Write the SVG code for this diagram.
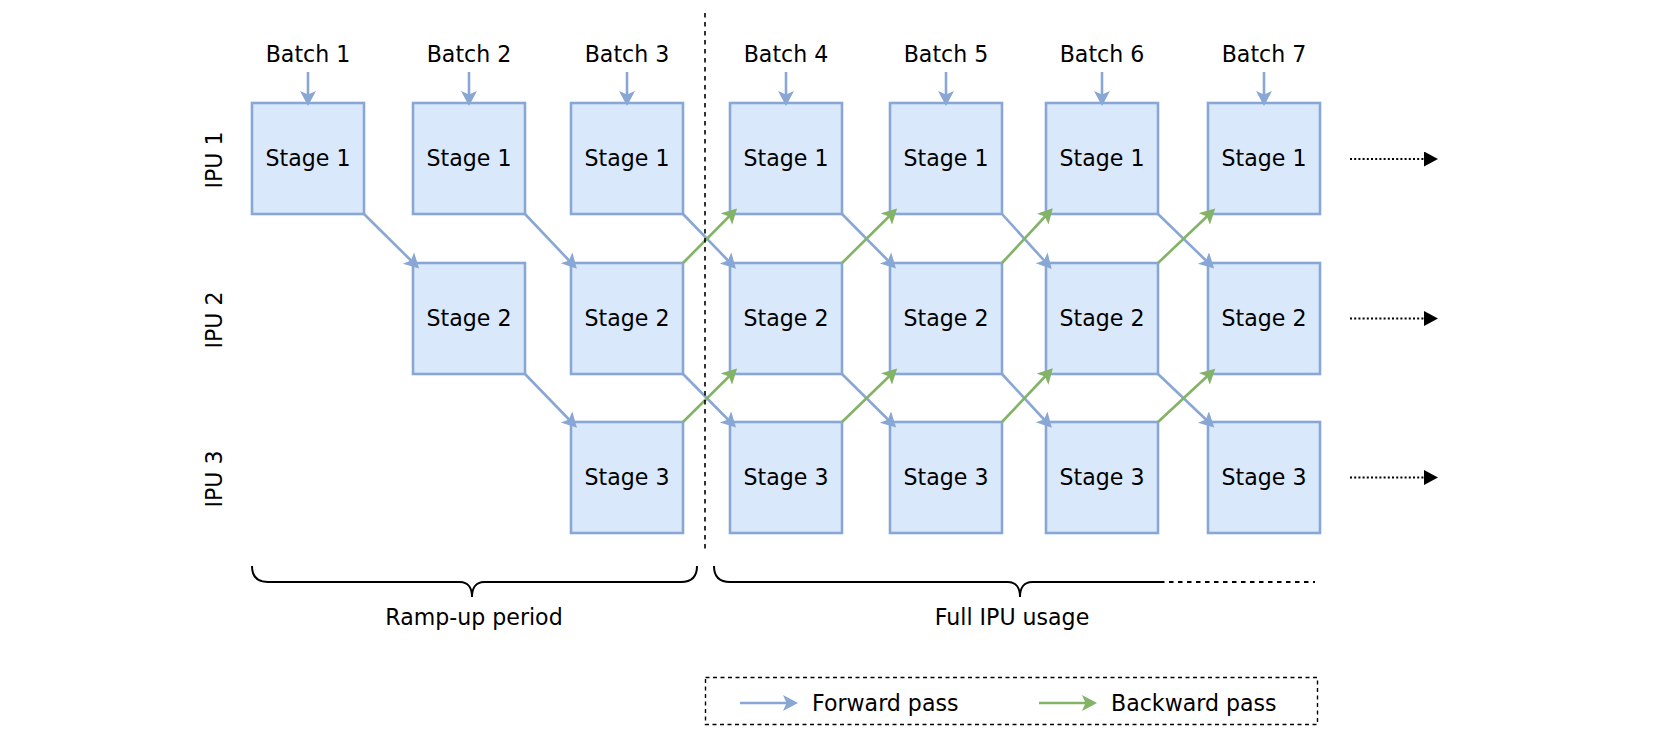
<svg xmlns="http://www.w3.org/2000/svg" width="1655" height="742" viewBox="0 0 1655 742">
<defs>
<style>
text{font-family:"DejaVu Sans","Liberation Sans",sans-serif;font-size:22.1px;fill:#000}
.box rect{fill:#dae8fc;stroke:#89a7d5;stroke-width:2.6}
.box text{text-anchor:middle}
.lbl{text-anchor:middle}
.fw{stroke:#89a7d5;stroke-width:2.6;fill:none;marker-end:url(#aB)}
.bw{stroke:#82b366;stroke-width:2.6;fill:none;marker-end:url(#aG)}
.dot{stroke:#000;stroke-width:2.2;stroke-dasharray:2 2.2;fill:none;marker-end:url(#aK)}
.dash{stroke:#000;stroke-width:1.6;stroke-dasharray:4.5 4.5;fill:none}
.brace{stroke:#000;stroke-width:2;fill:none}
</style>
<marker id="aB" markerUnits="userSpaceOnUse" markerWidth="16" markerHeight="17" refX="5" refY="8" orient="auto"><path d="M0,0 L15,8 L0,16 L3.5,8 z" fill="#89a7d5"/></marker>
<marker id="aG" markerUnits="userSpaceOnUse" markerWidth="16" markerHeight="17" refX="5" refY="8" orient="auto"><path d="M0,0 L15,8 L0,16 L3.5,8 z" fill="#82b366"/></marker>
<marker id="aK" markerUnits="userSpaceOnUse" markerWidth="15" markerHeight="16" refX="0" refY="7.5" orient="auto"><path d="M0,0 L14,7.5 L0,15 z" fill="#000"/></marker>
</defs>
<rect width="1655" height="742" fill="#fff"/>

<g id="labels">
<text class="lbl" x="308" y="62">Batch 1</text>
<text class="lbl" x="469" y="62">Batch 2</text>
<text class="lbl" x="627" y="62">Batch 3</text>
<text class="lbl" x="786" y="62">Batch 4</text>
<text class="lbl" x="946" y="62">Batch 5</text>
<text class="lbl" x="1102" y="62">Batch 6</text>
<text class="lbl" x="1264" y="62">Batch 7</text>
<text class="lbl" transform="translate(222,160) rotate(-90)">IPU 1</text>
<text class="lbl" transform="translate(222,320) rotate(-90)">IPU 2</text>
<text class="lbl" transform="translate(222,479) rotate(-90)">IPU 3</text>
<text class="lbl" x="474" y="625">Ramp-up period</text>
<text class="lbl" x="1012" y="625">Full IPU usage</text>
</g>

<g id="nodes">
<g id="s1b1" class="box"><rect x="252" y="103" width="112" height="111"/><text x="308" y="165.5">Stage 1</text></g>
<g id="s1b2" class="box"><rect x="413" y="103" width="112" height="111"/><text x="469" y="165.5">Stage 1</text></g>
<g id="s1b3" class="box"><rect x="571" y="103" width="112" height="111"/><text x="627" y="165.5">Stage 1</text></g>
<g id="s1b4" class="box"><rect x="730" y="103" width="112" height="111"/><text x="786" y="165.5">Stage 1</text></g>
<g id="s1b5" class="box"><rect x="890" y="103" width="112" height="111"/><text x="946" y="165.5">Stage 1</text></g>
<g id="s1b6" class="box"><rect x="1046" y="103" width="112" height="111"/><text x="1102" y="165.5">Stage 1</text></g>
<g id="s1b7" class="box"><rect x="1208" y="103" width="112" height="111"/><text x="1264" y="165.5">Stage 1</text></g>

<g id="s2b2" class="box"><rect x="413" y="263" width="112" height="111"/><text x="469" y="325.5">Stage 2</text></g>
<g id="s2b3" class="box"><rect x="571" y="263" width="112" height="111"/><text x="627" y="325.5">Stage 2</text></g>
<g id="s2b4" class="box"><rect x="730" y="263" width="112" height="111"/><text x="786" y="325.5">Stage 2</text></g>
<g id="s2b5" class="box"><rect x="890" y="263" width="112" height="111"/><text x="946" y="325.5">Stage 2</text></g>
<g id="s2b6" class="box"><rect x="1046" y="263" width="112" height="111"/><text x="1102" y="325.5">Stage 2</text></g>
<g id="s2b7" class="box"><rect x="1208" y="263" width="112" height="111"/><text x="1264" y="325.5">Stage 2</text></g>

<g id="s3b3" class="box"><rect x="571" y="422" width="112" height="111"/><text x="627" y="484.5">Stage 3</text></g>
<g id="s3b4" class="box"><rect x="730" y="422" width="112" height="111"/><text x="786" y="484.5">Stage 3</text></g>
<g id="s3b5" class="box"><rect x="890" y="422" width="112" height="111"/><text x="946" y="484.5">Stage 3</text></g>
<g id="s3b6" class="box"><rect x="1046" y="422" width="112" height="111"/><text x="1102" y="484.5">Stage 3</text></g>
<g id="s3b7" class="box"><rect x="1208" y="422" width="112" height="111"/><text x="1264" y="484.5">Stage 3</text></g>
</g>

<g id="connectors">
<line class="fw" x1="308" y1="72" x2="308" y2="96"/>
<line class="fw" x1="469" y1="72" x2="469" y2="96"/>
<line class="fw" x1="627" y1="72" x2="627" y2="96"/>
<line class="fw" x1="786" y1="72" x2="786" y2="96"/>
<line class="fw" x1="946" y1="72" x2="946" y2="96"/>
<line class="fw" x1="1102" y1="72" x2="1102" y2="96"/>
<line class="fw" x1="1264" y1="72" x2="1264" y2="96"/>

<line class="fw" x1="364" y1="214" x2="412" y2="261.5"/>
<line class="fw" x1="525" y1="214" x2="570" y2="261.5"/>
<line class="fw" x1="683" y1="214" x2="729" y2="261.5"/>
<line class="fw" x1="842" y1="214" x2="889" y2="261.5"/>
<line class="fw" x1="1002" y1="214" x2="1045" y2="261.5"/>
<line class="fw" x1="1158" y1="214" x2="1207" y2="261.5"/>

<line class="fw" x1="525" y1="374" x2="570" y2="420.5"/>
<line class="fw" x1="683" y1="374" x2="729" y2="420.5"/>
<line class="fw" x1="842" y1="374" x2="889" y2="420.5"/>
<line class="fw" x1="1002" y1="374" x2="1045" y2="420.5"/>
<line class="fw" x1="1158" y1="374" x2="1207" y2="420.5"/>

<line class="bw" x1="683" y1="263" x2="730" y2="215.5"/>
<line class="bw" x1="842" y1="263" x2="890" y2="215.5"/>
<line class="bw" x1="1002" y1="263" x2="1046" y2="215.5"/>
<line class="bw" x1="1158" y1="263" x2="1208" y2="215.5"/>

<line class="bw" x1="683" y1="422" x2="730" y2="375.5"/>
<line class="bw" x1="842" y1="422" x2="890" y2="375.5"/>
<line class="bw" x1="1002" y1="422" x2="1046" y2="375.5"/>
<line class="bw" x1="1158" y1="422" x2="1208" y2="375.5"/>

<line class="dot" x1="1350" y1="159" x2="1424" y2="159"/>
<line class="dot" x1="1350" y1="318.5" x2="1424" y2="318.5"/>
<line class="dot" x1="1350" y1="477.5" x2="1424" y2="477.5"/>
</g>

<g id="annotations">
<line class="dash" x1="705" y1="13" x2="705" y2="551"/>
<path class="brace" d="M252,566 Q252,582 268,582 H460 C468,582 472,588 472,597 C472,588 476,582 484,582 H681 Q697,582 697,566"/>
<path class="brace" d="M714,566 Q714,582 730,582 H1008 C1016,582 1020,588 1020,597 C1020,588 1024,582 1032,582 H1160"/>
<line class="dash" x1="1160" y1="582" x2="1315" y2="582" style="stroke-width:1.8"/>
</g>

<g id="legend">
<rect x="705.5" y="677.5" width="612" height="47" class="dash" style="stroke-width:1.4;stroke-dasharray:4 3.5"/>
<line class="fw" x1="740" y1="703" x2="788" y2="703"/>
<text x="812" y="711">Forward pass</text>
<line class="bw" x1="1039" y1="703" x2="1087" y2="703"/>
<text x="1111" y="711">Backward pass</text>
</g>
</svg>
